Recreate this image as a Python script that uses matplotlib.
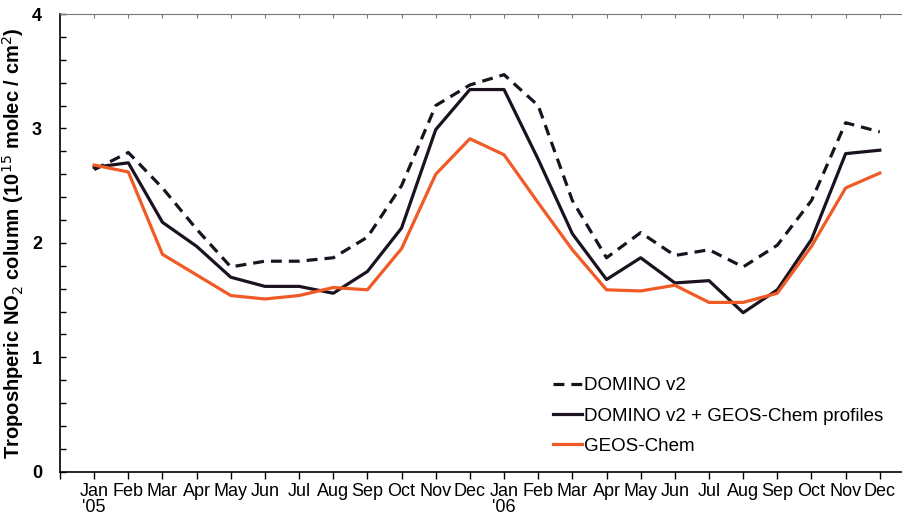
import numpy as np
from matplotlib import pyplot as plt
from matplotlib.ticker import MultipleLocator

plt.rcParams["font.family"] = ["Liberation Sans", "DejaVu Sans"]

months = ["Jan\n'05", "Feb", "Mar", "Apr", "May", "Jun", "Jul", "Aug", "Sep", "Oct", "Nov", "Dec",
          "Jan\n'06", "Feb", "Mar", "Apr", "May", "Jun", "Jul", "Aug", "Sep", "Oct", "Nov", "Dec"]

domino_v2 = [2.64, 2.79, 2.48, 2.12, 1.79, 1.84, 1.84, 1.87, 2.05, 2.50, 3.20, 3.38,
             3.47, 3.20, 2.37, 1.87, 2.09, 1.89, 1.94, 1.79, 1.98, 2.37, 3.05, 2.97]
domino_geos = [2.66, 2.70, 2.18, 1.97, 1.70, 1.62, 1.62, 1.56, 1.75, 2.13, 2.99, 3.34,
               3.34, 2.73, 2.08, 1.68, 1.87, 1.65, 1.67, 1.39, 1.59, 2.03, 2.78, 2.81]
geos_chem = [2.68, 2.62, 1.90, 1.72, 1.54, 1.51, 1.54, 1.61, 1.59, 1.95, 2.60, 2.91,
             2.77, 2.35, 1.94, 1.59, 1.58, 1.63, 1.48, 1.48, 1.56, 1.97, 2.48, 2.61]

black = '#1b1220'
orange = '#f05a24'

x = np.arange(len(months))

fig = plt.figure(figsize=(9.02, 5.19), dpi=100)
ax = fig.add_axes([0.0665, 0.091, 0.9335, 0.882])

ax.plot(x, domino_v2, color=black, lw=2.3, linestyle=(0, (3.4, 2.2)), label='DOMINO v2')
ax.plot(x, domino_geos, color=black, lw=2.3, label='DOMINO v2 + GEOS-Chem profiles')
ax.plot(x, geos_chem, color=orange, lw=2.3, label='GEOS-Chem')

ax.set_xlim(-1, 23.65)
ax.set_ylim(0, 4)

ax.set_xticks(np.arange(-1, 24))
ax.set_xticklabels([''] + months, fontsize=13, linespacing=0.9)
ax.tick_params(axis='x', direction='out', length=5, width=1, pad=3)

ax.yaxis.set_major_locator(MultipleLocator(1))
ax.yaxis.set_minor_locator(MultipleLocator(0.2))
ax.tick_params(axis='y', which='both', direction='in', length=4, width=1, pad=13)
for lab in ax.get_yticklabels():
    lab.set_fontweight('bold')
    lab.set_fontsize(13)

ax.spines['right'].set_visible(False)
ax.spines['top'].set_color('#777777')
ax.spines['left'].set_linewidth(1.2)
ax.spines['bottom'].set_linewidth(1.2)

top = ax.secondary_xaxis('top')
top.set_xticks(np.arange(0, 24))
top.tick_params(direction='in', length=3, color='#777777', labeltop=False)
top.spines['top'].set_visible(False)

ax.set_ylabel('Troposhperic NO$_2$ column (10$^{15}$ molec / cm$^2$)',
              fontsize=14.5, fontweight='bold', labelpad=4)

ax.legend(loc='lower left', bbox_to_anchor=(0.565, 0.0), frameon=False, fontsize=13.5,
          handlelength=1.55, handletextpad=0.1, labelspacing=0.7)

fig.savefig('out.png', dpi=100)
